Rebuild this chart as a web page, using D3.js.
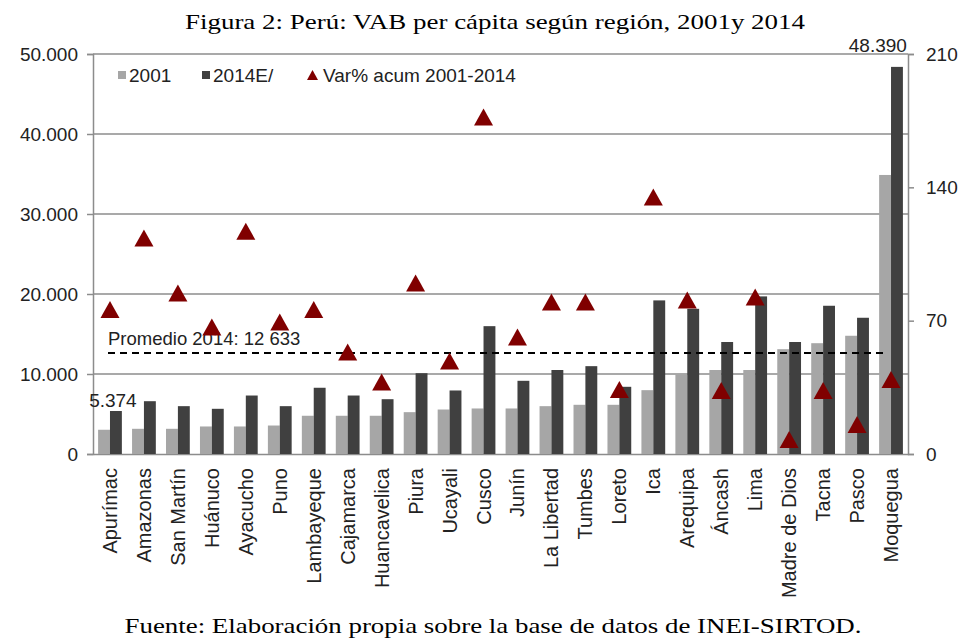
<!DOCTYPE html>
<html>
<head>
<meta charset="utf-8">
<script src="https://cdn.jsdelivr.net/npm/d3@7"></script>
<style>
  body { margin: 0; background: #fff; }
  svg { display: block; }
  .tick text, .lbl { font-family: 'Liberation Sans', Arial, sans-serif; fill: #222; }
  .serif { font-family: 'Liberation Serif', 'DejaVu Serif', serif; fill: #000; }
</style>
</head>
<body>
<div id="container"></div>
<script>
// --- Data ---
const regions = ['Apurímac', 'Amazonas', 'San Martín', 'Huánuco', 'Ayacucho', 'Puno', 'Lambayeque',
  'Cajamarca', 'Huancavelica', 'Piura', 'Ucayali', 'Cusco', 'Junín', 'La Libertad', 'Tumbes',
  'Loreto', 'Ica', 'Arequipa', 'Áncash', 'Lima', 'Madre de Dios', 'Tacna', 'Pasco', 'Moquegua'];
const vab2001 = [3030, 3150, 3150, 3440, 3440, 3560, 4780, 4780, 4780, 5230, 5560, 5690, 5690,
  5980, 6150, 6150, 7980, 10000, 10500, 10500, 13100, 13850, 14780, 34880];
const vab2014 = [5374, 6600, 5980, 5650, 7310, 5980, 8280, 7310, 6850, 10100, 7940, 15980, 9150,
  10500, 10980, 8400, 19200, 18150, 14000, 19700, 14000, 18530, 17030, 48390];
const varAcum = [75.9, 113.4, 84.5, 66.7, 117, 69.3, 75.9, 53.5, 37.8, 89.8, 48.8, 176.9, 61.4,
  79.8, 79.8, 33.9, 134.9, 80.8, 33.3, 82.4, 7.6, 33.3, 15.5, 39.1];
const promedio2014 = 12633;
const leftTicks = [0, 10000, 20000, 30000, 40000, 50000];
const rightTicks = [0, 70, 140, 210];

const cats = regions;

const width = 969;
const height = 641;
const plot = { left: 93, right: 908, top: 54, bottom: 454 };

const svg = d3.select('#container').append('svg').attr('width', width).attr('height', height);

const x = d3.scaleBand().domain(cats).range([plot.left, plot.right]).paddingInner(0.3).paddingOuter(0.15);
const yL = d3.scaleLinear().domain([0, 50000]).range([plot.bottom, plot.top]);
const yR = d3.scaleLinear().domain([0, 210]).range([plot.bottom, plot.top]);
const fmt = (v) => d3.format(',')(v).replace(/,/g, '.');

// --- Gridlines ---
svg.append('g')
  .selectAll('line')
  .data(leftTicks.slice(1))
  .join('line')
  .attr('x1', plot.left).attr('x2', plot.right)
  .attr('y1', (d) => yL(d)).attr('y2', (d) => yL(d))
  .attr('stroke', '#8c8c8c').attr('stroke-width', 1.5);

// --- Axes ---
const axisL = svg.append('g').attr('transform', `translate(${plot.left},0)`)
  .call(d3.axisLeft(yL).tickValues(leftTicks).tickFormat(fmt).tickSize(6).tickPadding(9));
const axisR = svg.append('g').attr('transform', `translate(${plot.right},0)`)
  .call(d3.axisRight(yR).tickValues(rightTicks).tickSize(6).tickPadding(12));
[axisL, axisR].forEach((a) => {
  a.select('.domain').attr('stroke', '#8c8c8c').attr('stroke-width', 1.5);
  a.selectAll('.tick line').attr('stroke', '#8c8c8c').attr('stroke-width', 1.5);
  a.selectAll('.tick text').attr('font-size', 19);
});

const axisB = svg.append('g').attr('transform', `translate(0,${plot.bottom})`)
  .call(d3.axisBottom(x).tickSize(0).tickPadding(0));
axisB.select('.domain').attr('stroke', '#8c8c8c').attr('stroke-width', 1.5);
axisB.selectAll('.tick text')
  .attr('font-size', 20)
  .attr('text-anchor', 'end')
  .attr('dy', null)
  .attr('dominant-baseline', 'central')
  .attr('transform', 'translate(0,14) rotate(-90)');

// --- Bars ---
const bw = x.bandwidth() / 2;
const idx = (d) => cats.indexOf(d);

svg.append('g')
  .selectAll('rect')
  .data(cats)
  .join('rect')
  .attr('x', (d) => x(d))
  .attr('y', (d) => yL(vab2001[idx(d)]))
  .attr('width', bw)
  .attr('height', (d) => plot.bottom - yL(vab2001[idx(d)]))
  .attr('fill', '#a6a6a6');

svg.append('g')
  .selectAll('rect')
  .data(cats)
  .join('rect')
  .attr('x', (d) => x(d) + bw)
  .attr('y', (d) => yL(vab2014[idx(d)]))
  .attr('width', bw)
  .attr('height', (d) => plot.bottom - yL(vab2014[idx(d)]))
  .attr('fill', '#404040');

// --- Average line ---
svg.append('line')
  .attr('x1', 108).attr('x2', 887)
  .attr('y1', yL(promedio2014)).attr('y2', yL(promedio2014))
  .attr('stroke', '#000').attr('stroke-width', 2).attr('stroke-dasharray', '7,5');
svg.append('text').attr('class', 'lbl')
  .attr('x', 108).attr('y', yL(promedio2014) - 8)
  .attr('font-size', 18.5)
  .text('Promedio 2014: 12 633');

// --- Data labels (first and last 2014 bars) ---
const first = cats[0];
const last = cats[cats.length - 1];
svg.append('text').attr('class', 'lbl')
  .attr('x', x(first) + bw * 1.5 - 3).attr('y', yL(vab2014[0]) - 4)
  .attr('text-anchor', 'middle').attr('font-size', 19)
  .text(fmt(vab2014[0]));
svg.append('text').attr('class', 'lbl')
  .attr('x', x(last) + bw * 2 + 4).attr('y', plot.top - 2)
  .attr('text-anchor', 'end').attr('font-size', 19)
  .text(fmt(vab2014[idx(last)]));

// --- Triangles (right axis) ---
const tri = 'M0,-8.5L9.5,8.5L-9.5,8.5Z';
svg.append('g')
  .selectAll('path')
  .data(cats)
  .join('path')
  .attr('d', tri)
  .attr('transform', (d) => `translate(${x(d) + x.bandwidth() / 2},${yR(varAcum[idx(d)])})`)
  .attr('fill', '#800000');

// --- Legend ---
const lg = svg.append('g').attr('transform', 'translate(0,75)');
const legendItems = [
  { label: '2001', x: 118, type: 'rect', color: '#a6a6a6' },
  { label: '2014E/', x: 202, type: 'rect', color: '#404040' },
  { label: 'Var% acum 2001-2014', x: 307, type: 'tri', color: '#800000' },
];
legendItems.forEach((it) => {
  if (it.type === 'rect') {
    lg.append('rect').attr('x', it.x).attr('y', -4).attr('width', 8).attr('height', 8).attr('fill', it.color);
  } else {
    lg.append('path').attr('d', 'M0,-5L5.5,5L-5.5,5Z')
      .attr('transform', `translate(${it.x + 5.5},0)`).attr('fill', it.color);
  }
  lg.append('text').attr('class', 'lbl')
    .attr('x', it.x + (it.type === 'rect' ? 11 : 16)).attr('y', 7)
    .attr('font-size', 19)
    .text(it.label);
});

// --- Title and source ---
svg.append('text').attr('class', 'serif')
  .attr('x', 495).attr('y', 29)
  .attr('text-anchor', 'middle').attr('font-size', 22)
  .attr('textLength', 620).attr('lengthAdjust', 'spacingAndGlyphs')
  .text('Figura 2: Perú: VAB per cápita según región, 2001y 2014');
svg.append('text').attr('class', 'serif')
  .attr('x', 493).attr('y', 633)
  .attr('text-anchor', 'middle').attr('font-size', 22)
  .attr('textLength', 737).attr('lengthAdjust', 'spacingAndGlyphs')
  .text('Fuente: Elaboración propia sobre la base de datos de INEI-SIRTOD.');
</script>
</body>
</html>
